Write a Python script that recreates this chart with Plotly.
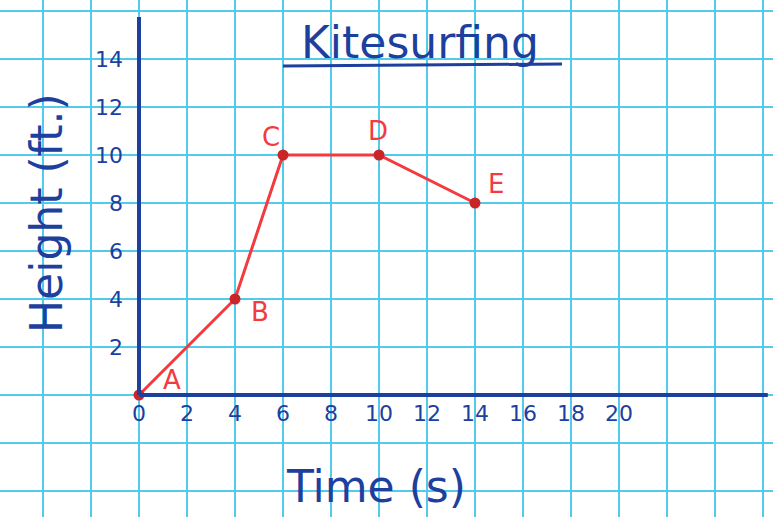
import plotly.graph_objects as go

# Kitesurfing flight: height over time
time_s = [0, 4, 6, 10, 14]
height_ft = [0, 4, 10, 10, 8]
point_labels = ["A", "B", "C", "D", "E"]

x_tick_labels = ["0", "2", "4", "6", "8", "10", "12", "14", "16", "18", "20"]
y_tick_labels = ["2", "4", "6", "8", "10", "12", "14"]

W, H = 773, 517
ORIGIN_PX = (139, 395)
PX_PER_UNIT = 24.0

x_range = [-ORIGIN_PX[0] / PX_PER_UNIT, (W - ORIGIN_PX[0]) / PX_PER_UNIT]
y_range = [-(H - ORIGIN_PX[1]) / PX_PER_UNIT, ORIGIN_PX[1] / PX_PER_UNIT]

INK = "#1d3f9e"
RED = "#f23a3f"
DOT = "#c9262a"
GRID = "#52cbea"
FONT = "DejaVu Sans"

# grid lines every 2 units across the whole sheet; labels only where written
x_grid = list(range(-4, 27, 2))
y_grid = list(range(-4, 17, 2))
x_text = [x_tick_labels[v // 2] if 0 <= v <= 20 else "" for v in x_grid]
y_text = [y_tick_labels[v // 2 - 1] if 2 <= v <= 14 else "" for v in y_grid]

fig = go.Figure()

fig.add_trace(go.Scatter(
    x=time_s, y=height_ft, mode="lines+markers",
    line=dict(color=RED, width=3),
    marker=dict(color=DOT, size=11),
    hoverinfo="skip", showlegend=False,
))

# label offsets (pixels) for each point
offsets = [(33, 15), (25, -13), (-12, 18), (-1, 24), (21, 19)]
for xv, yv, lab, (dx, dy) in zip(time_s, height_ft, point_labels, offsets):
    fig.add_annotation(x=xv, y=yv, text=lab, showarrow=False,
                       xshift=dx, yshift=dy, xanchor="center", yanchor="middle",
                       font=dict(family=FONT, size=26, color=RED))

# hand-drawn axes
fig.add_shape(type="line", x0=0, x1=0, y0=0, y1=15.75,
              line=dict(color=INK, width=4))
fig.add_shape(type="line", x0=0, x1=26.2, y0=0, y1=0,
              line=dict(color=INK, width=4))

# title with underline
fig.add_annotation(xref="paper", yref="paper", x=420 / W, y=1 - 42 / H,
                   xanchor="center", yanchor="middle",
                   text="Kitesurfing", showarrow=False,
                   font=dict(family=FONT, size=44, color=INK))
fig.add_shape(type="line", xref="paper", yref="paper",
              x0=283 / W, x1=562 / W, y0=1 - 66 / H, y1=1 - 64 / H,
              line=dict(color=INK, width=3))

# axis titles
fig.add_annotation(xref="paper", yref="paper", x=376 / W, y=1 - 486 / H,
                   xanchor="center", yanchor="middle",
                   text="Time (s)", showarrow=False,
                   font=dict(family=FONT, size=44, color=INK))
fig.add_annotation(xref="paper", yref="paper", x=46 / W, y=1 - 213 / H,
                   xanchor="center", yanchor="middle",
                   text="Height (ft.)", showarrow=False, textangle=-90,
                   font=dict(family=FONT, size=44, color=INK))

fig.update_layout(
    width=W, height=H,
    margin=dict(l=0, r=0, t=0, b=0),
    paper_bgcolor="white", plot_bgcolor="white",
    xaxis=dict(range=x_range, tickmode="array", tickvals=x_grid, ticktext=x_text,
               showgrid=True, gridcolor=GRID, gridwidth=2, zeroline=False,
               showline=False, ticks="", anchor="free",
               position=(H - ORIGIN_PX[1]) / H, ticklabelstandoff=3,
               tickfont=dict(family=FONT, size=22, color=INK),
               fixedrange=True),
    yaxis=dict(range=y_range, tickmode="array", tickvals=y_grid, ticktext=y_text,
               showgrid=True, gridcolor=GRID, gridwidth=2, zeroline=False,
               showline=False, ticks="", anchor="free",
               position=ORIGIN_PX[0] / W, ticklabelstandoff=16,
               tickfont=dict(family=FONT, size=22, color=INK),
               fixedrange=True),
)

fig.write_html("out.html")
